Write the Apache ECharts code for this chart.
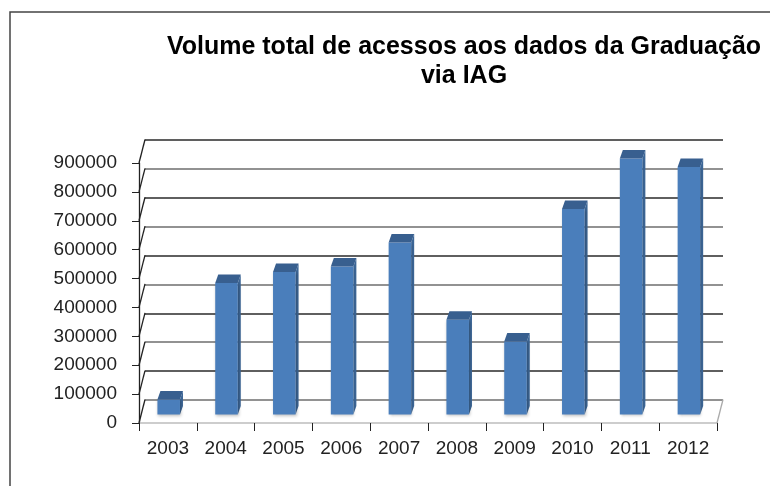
<!DOCTYPE html>
<html style="height: 100%">
<head>
    <meta charset="utf-8">
</head>
<body style="height: 100%; margin: 0; background: #fff">
<div id="container" style="width: 770px; height: 486px"></div>
<script type="text/javascript" src="https://cdn.jsdelivr.net/npm/echarts@6/dist/echarts.min.js"></script>
<script type="text/javascript">
// anos (eixo X)
var anos = ['2003', '2004', '2005', '2006', '2007', '2008', '2009', '2010', '2011', '2012'];
// volume total de acessos por ano
var acessos = [52000, 455000, 493000, 512000, 595000, 328000, 253000, 711000, 886000, 857000];
// marcas do eixo Y
var yMin = 0;
var yMax = 900000;
var yStep = 100000;
var yTicks = [0, 100000, 200000, 300000, 400000, 500000, 600000, 700000, 800000, 900000];

var chart = echarts.init(document.getElementById('container'));

// deslocamento da parede do fundo (efeito 3D)
var DEPTH_X = 6, DEPTH_Y = -23.5;

function renderBarra(params, api) {
    var base = api.coord([api.value(0), 0]);
    var topo = api.coord([api.value(0), api.value(1)]);
    var bw = api.size([1, 0])[0];
    var w = bw * 0.39;
    var x0 = base[0] - w / 2 + 0.8;
    var y0 = base[1] - 8.5;
    var h = base[1] - topo[1];
    var dx = 3, dy = -8.5;
    return {
        type: 'group',
        children: [
            {
                type: 'polygon',
                shape: {points: [[x0 + w, y0], [x0 + w + dx, y0 + dy], [x0 + w + dx, y0 - h + dy], [x0 + w, y0 - h]]},
                style: {fill: '#3d6797'}
            },
            {
                type: 'rect',
                shape: {x: x0, y: y0 - h, width: w, height: h},
                style: {fill: '#4a7ebb', shadowColor: 'rgba(0,0,0,0.25)', shadowBlur: 3, shadowOffsetX: 1, shadowOffsetY: 1}
            },
            {
                type: 'polygon',
                shape: {points: [[x0, y0 - h], [x0 + w, y0 - h], [x0 + w + dx, y0 - h + dy], [x0 + dx, y0 - h + dy]]},
                style: {fill: '#385f8f'}
            }
        ]
    };
}

function renderParede(params, api) {
    var p = api.coord([api.value(0), api.value(1)]);
    var bw = api.size([1, 0])[0];
    var x = api.value(0) === 0 ? p[0] - bw / 2 : p[0] + bw / 2;
    return {
        type: 'line',
        shape: {x1: x, y1: p[1], x2: x + DEPTH_X, y2: p[1] + DEPTH_Y},
        style: {stroke: api.value(0) === 0 ? '#222' : '#aaa', lineWidth: 1.3}
    };
}

var paredeData = yTicks.map(function (v) { return [0, v]; });
paredeData.push([anos.length - 1, 0]);

var option = {
    animation: false,
    textStyle: {fontFamily: 'Liberation Sans, Arial, sans-serif'},
    title: {
        text: 'Volume total de acessos aos dados da Graduação\nvia IAG',
        left: 464,
        top: 33,
        padding: 0,
        textAlign: 'center',
        textStyle: {fontSize: 25, fontWeight: 'bold', color: '#000', lineHeight: 29}
    },
    graphic: [{
        type: 'rect',
        shape: {x: 10, y: 12, width: 800, height: 520},
        style: {fill: 'none', stroke: '#444', lineWidth: 1.5},
        z: -10
    }],
    grid: [
        {left: 139, right: 53, top: 163, bottom: 63},
        {left: 145, right: 47, top: 140, bottom: 86}
    ],
    xAxis: [
        {
            type: 'category',
            gridIndex: 0,
            data: anos,
            axisLine: {lineStyle: {color: '#bdbdbd', width: 1.5}},
            axisTick: {show: true, length: 8, lineStyle: {color: '#222'}},
            axisLabel: {interval: 0, fontSize: 19, color: '#222', margin: 16}
        },
        {
            type: 'category',
            gridIndex: 1,
            data: anos,
            show: false
        }
    ],
    yAxis: [
        {
            type: 'value',
            gridIndex: 0,
            min: yMin, max: yMax, interval: yStep,
            axisLine: {show: true, lineStyle: {color: '#222', width: 1.3}},
            axisTick: {show: true, length: 7, lineStyle: {color: '#222'}},
            axisLabel: {fontSize: 19, color: '#222', margin: 22, formatter: function (v) { return String(v); }},
            splitLine: {show: false}
        },
        {
            type: 'value',
            gridIndex: 1,
            min: yMin, max: yMax, interval: yStep,
            axisLine: {show: false},
            axisTick: {show: false},
            axisLabel: {show: false},
            splitLine: {show: true, lineStyle: {color: ['#6e6e6e', '#2a2a2a'], width: 1.6}}
        }
    ],
    series: [
        {
            name: 'parede',
            type: 'custom',
            xAxisIndex: 0,
            yAxisIndex: 0,
            clip: false,
            silent: true,
            renderItem: renderParede,
            data: paredeData,
            z: 1
        },
        {
            name: 'Acessos',
            type: 'custom',
            xAxisIndex: 0,
            yAxisIndex: 0,
            clip: false,
            renderItem: renderBarra,
            encode: {x: 0, y: 1},
            data: acessos.map(function (v, i) { return [i, v]; }),
            z: 3
        }
    ]
};
chart.setOption(option);
</script>
</body>
</html>
